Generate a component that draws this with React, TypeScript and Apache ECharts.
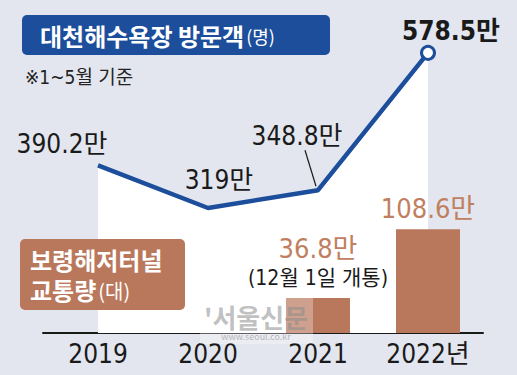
import React, { useEffect, useRef } from "react";
import * as echarts from "echarts";

const categories = ["2019", "2020", "2021", "2022년"];
const visitors = [390.2, 319, 348.8, 578.5];
const traffic: (number | string)[] = ["-", "-", 36.8, 108.6];
const unit = "만";
const titleText = "대천해수욕장 방문객";
const titleUnit = "(명)";
const noteText = "※1~5월 기준";
const boxLine1 = "보령해저터널";
const boxLine2 = "교통량";
const boxUnit = "(대)";
const openNote = "(12월 1일 개통)";

const NUM_FONT = "'Liberation Sans Narrow', 'DejaVu Sans Condensed', Roboto, 'Noto Sans CJK KR', sans-serif";
const KR_FONT = "'Noto Sans CJK KR', sans-serif";
const BLUE = "#1c4e9c";
const BROWN = "#b9785c";
const BG = "#e3e6ee";

// label offsets (style only)
const lineLabelOffsets = [
  [-36, -21],
  [11, -28],
  [-21, -54],
  [23, -22],
];

export default function App() {
  const ref = useRef<HTMLDivElement>(null);
  useEffect(() => {
    if (!ref.current) return;
    const chart = echarts.init(ref.current, undefined, { renderer: "svg" });
    const last = visitors.length - 1;
    const lineData = visitors.map((v, i) => ({
      value: v,
      symbol: "circle",
      symbolSize: i === last ? 13 : 0,
      label: {
        show: true,
        position: "inside",
        offset: lineLabelOffsets[i],
        fontWeight: i === last ? "bold" : "normal",
      },
    }));
    const barData = traffic.map((v, i) => {
      if (v === "-") return "-";
      if (i === 2) {
        return {
          value: v,
          label: {
            show: true,
            position: "top",
            distance: 6,
            formatter: `{v|${v}${unit}}\n{n|${openNote}}`,
          },
        };
      }
      return {
        value: v,
        label: {
          show: true,
          position: "top",
          distance: 6,
          formatter: `{v|${v}${unit}}`,
        },
      };
    });
    chart.setOption({
      animation: false,
      backgroundColor: BG,
      grid: { left: 43, right: 34, top: 40, bottom: 42 },
      xAxis: {
        type: "category",
        data: categories,
        boundaryGap: true,
        axisLine: { lineStyle: { color: "#1a1a1a", width: 2 } },
        axisTick: {
          alignWithLabel: true,
          inside: true,
          length: 7,
          lineStyle: { color: "#1a1a1a", width: 1.5 },
        },
        axisLabel: {
          color: "#1a1a1a",
          fontSize: 26,
          fontFamily: NUM_FONT,
          margin: 8,
          interval: 0,
        },
      },
      yAxis: [
        { type: "value", min: 110, max: 600, show: false },
        { type: "value", min: 0, max: 307, show: false },
      ],
      series: [
        {
          type: "line",
          yAxisIndex: 0,
          data: lineData,
          showSymbol: true,
          lineStyle: { color: BLUE, width: 4.5 },
          itemStyle: { color: "#fff", borderColor: BLUE, borderWidth: 3 },
          areaStyle: { color: "#ffffff", opacity: 1, origin: "start" },
          label: {
            formatter: (p: any) => `${p.value}${unit}`,
            color: "#1a1a1a",
            fontSize: 26,
            fontFamily: NUM_FONT,
          },
          z: 2,
        },
        {
          type: "bar",
          yAxisIndex: 1,
          data: barData,
          barWidth: 64,
          itemStyle: { color: BROWN },
          label: {
            rich: {
              v: {
                color: "#c0805f",
                fontSize: 27,
                fontFamily: NUM_FONT,
                lineHeight: 30,
                align: "center",
              },
              n: {
                color: "#1a1a1a",
                fontSize: 21,
                fontFamily: NUM_FONT,
                lineHeight: 28,
                align: "center",
              },
            },
          },
          z: 3,
        },
      ],
    });

    const p = chart.convertToPixel({ seriesIndex: 0 }, [2, visitors[2]]) as number[];

    chart.setOption({
      graphic: [
        {
          type: "rect",
          shape: { x: 22, y: 15, width: 308, height: 40, r: 5 },
          style: { fill: BLUE },
          z: 10,
        },
        {
          type: "text",
          x: 40,
          y: 35,
          style: {
            text: `{a|${titleText}}{b|${titleUnit}}`,
            verticalAlign: "middle",
            rich: {
              a: { fill: "#fff", fontSize: 24, fontWeight: "bold", fontFamily: KR_FONT },
              b: { fill: "#fff", fontSize: 18, fontFamily: KR_FONT, padding: [2, 0, 0, 2] },
            },
          },
          z: 11,
        },
        {
          type: "text",
          x: 25,
          y: 77,
          style: {
            text: noteText,
            fill: "#222",
            fontSize: 19,
            fontFamily: NUM_FONT,
            verticalAlign: "middle",
          },
          z: 11,
        },
        {
          type: "line",
          shape: { x1: p[0] - 13, y1: p[1] - 40, x2: p[0] - 2, y2: p[1] - 4 },
          style: { stroke: "#1a1a1a", lineWidth: 1.2 },
          z: 11,
        },
        {
          type: "rect",
          shape: { x: 20, y: 239, width: 165, height: 71, r: 5 },
          style: { fill: BROWN },
          z: 10,
        },
        {
          type: "text",
          x: 30,
          y: 274,
          style: {
            text: `{a|${boxLine1}}\n{a|${boxLine2}}{b|${boxUnit}}`,
            verticalAlign: "middle",
            rich: {
              a: { fill: "#fff", fontSize: 24, fontWeight: "bold", fontFamily: KR_FONT, lineHeight: 30 },
              b: { fill: "#fff", fontSize: 20, fontFamily: KR_FONT, lineHeight: 30, padding: [2, 0, 0, 2] },
            },
          },
          z: 11,
        },
        {
          type: "rect",
          shape: { x: 200, y: 298, width: 113, height: 46 },
          style: { fill: "rgba(255,255,255,0.3)" },
          z: 12,
        },
        {
          type: "text",
          x: 256,
          y: 322,
          style: {
            text: "{m|'서울신문}\n{s|www.seoul.co.kr}",
            align: "center",
            verticalAlign: "middle",
            rich: {
              m: {
                fill: "rgba(140,140,140,0.55)",
                fontSize: 26,
                fontWeight: "bold",
                fontFamily: KR_FONT,
                lineHeight: 28,
                align: "center",
              },
              s: {
                fill: "rgba(140,140,140,0.6)",
                fontSize: 9,
                fontFamily: KR_FONT,
                lineHeight: 12,
                align: "center",
              },
            },
          },
          z: 13,
        },
      ],
    });
    return () => chart.dispose();
  }, []);
  return (
    <div
      ref={ref}
      style={{ position: "fixed", left: 0, top: 0, width: 517, height: 375 }}
    />
  );
}
